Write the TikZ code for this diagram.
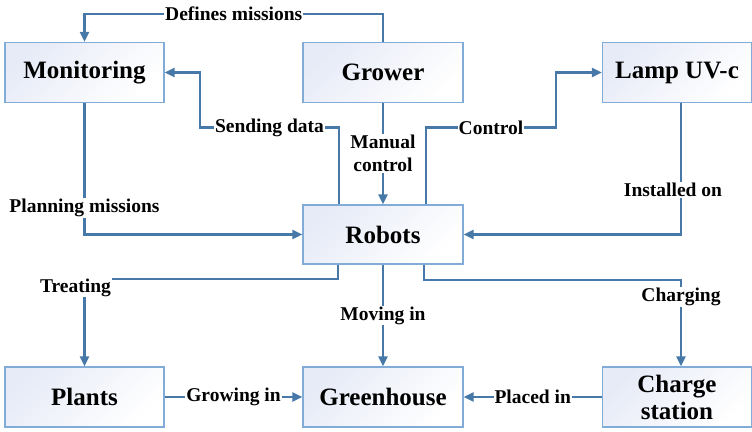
\documentclass[tikz,border=0pt]{standalone}
\usepackage{fontspec}
\setmainfont{Liberation Serif}
\usetikzlibrary{positioning, calc, arrows.meta}
\definecolor{linkblue}{RGB}{70,120,168}
\definecolor{boxline}{RGB}{130,172,216}
\definecolor{boxtint}{RGB}{231,235,247}

\begin{document}
\begin{tikzpicture}[x=1bp, y=-1bp,
    block/.style={draw=boxline, line width=1.2bp, top color=boxtint, bottom color=white, shading angle=45,
      minimum width=159bp, minimum height=60bp, inner sep=0pt, align=center,
      font=\bfseries\fontsize{25bp}{27bp}\selectfont},
    link/.style={draw=linkblue, line width=2.2bp, -{Triangle[length=10bp, width=9bp]}},
    lbl/.style={fill=white, inner sep=1bp, text=black, align=center,
      font=\bfseries\fontsize{19.5bp}{23bp}\selectfont}]
                \useasboundingbox (0,0) rectangle (752,431);
                % boxes
                \node[block] (monitoring) at (84.5,72.5) {Monitoring};
                \node[block, minimum width=160bp] (grower) at (383,72.5) {Grower};
                \node[block, minimum width=149bp] (lamp) at (677,72.5) {Lamp UV-c};
                \node[block, minimum width=160bp, minimum height=59bp] (robots) at (383,234.5) {Robots};
                \node[block] (plants) at (84.5,397) {Plants};
                \node[block, minimum width=160bp] (greenhouse) at (383,397) {Greenhouse};
                \node[block, minimum width=149bp] (charge) at (677,397) {Charge\\station};
                % top links
                \draw[link] (grower.north) -- ++(0,-28) -| node[lbl, pos=0.25] {Defines missions} (monitoring.north);
                \draw[link] ([xshift=-44bp]robots.north) |- node[lbl, pos=0.75] {Sending data} ++(-139,-77) |- (monitoring.east);
                \draw[link] (grower.south) -- node[lbl] {Manual\\control} (robots.north);
                \draw[link] ([xshift=43bp]robots.north) |- node[lbl, pos=0.75] {Control} ++(130,-77) |- (lamp.west);
                \draw[link] ([xshift=4bp]lamp.south) |- node[lbl, pos=0.33, xshift=-8bp] {Installed on} (robots.east);
                \draw[link] (monitoring.south) |- node[lbl, pos=0.4] {Planning missions} (robots.west);
                % bottom links
                \draw[link] ([xshift=-45bp]robots.south) -- ++(0,14) -| node[lbl, pos=0.55, xshift=-9bp] {Treating} (plants.north);
                \draw[link] (robots.south) -- node[lbl] {Moving in} (greenhouse.north);
                \draw[link] ([xshift=41bp]robots.south) -- ++(0,15) -| node[lbl, pos=0.6] {Charging} ([xshift=4bp]charge.north);
                \draw[link] (plants.east) -- node[lbl] {Growing in} (greenhouse.west);
                \draw[link] (charge.west) -- node[lbl] {Placed in} (greenhouse.east);
            \end{tikzpicture}
\end{document}
